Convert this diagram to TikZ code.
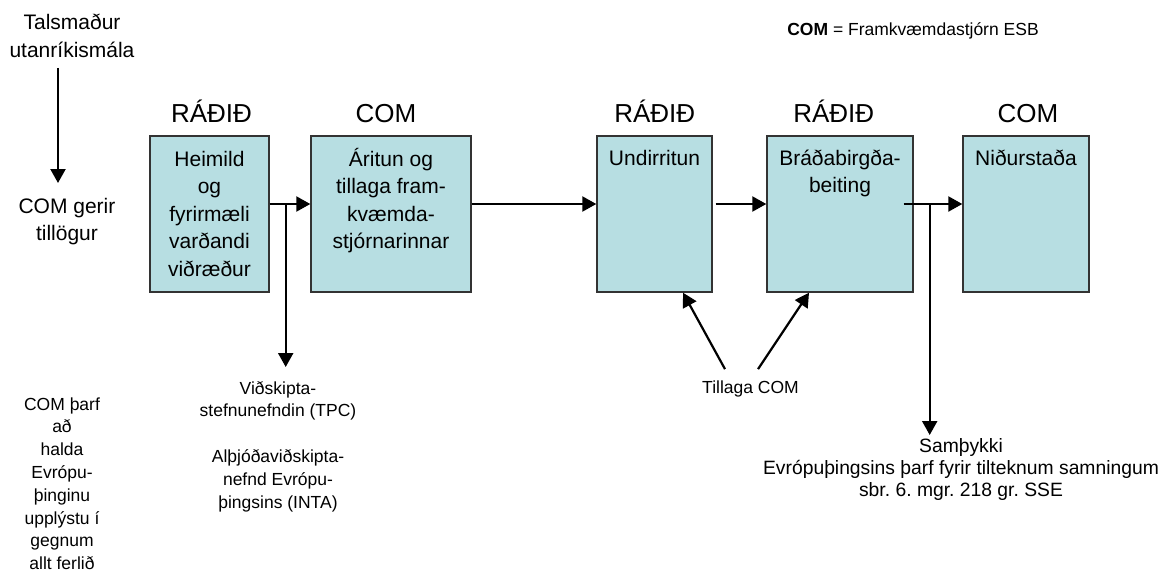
\documentclass[tikz,border=0pt]{standalone}
\usepackage{fontspec}
\setmainfont{Liberation Sans}
\usetikzlibrary{arrows.meta,calc}
\definecolor{boxfill}{RGB}{183,222,226}
\frenchspacing
\begin{document}
\begin{tikzpicture}[x=1pt,y=-1pt,
  arr/.style={line width=2.2pt,-{Triangle[length=14pt,width=15pt]}},
  stepbox/.style={draw=black!80,line width=1.4pt,fill=boxfill,inner sep=0pt,minimum height=156pt},
  head/.style={font=\fontsize{26}{30}\selectfont,anchor=base,inner sep=0pt},
  btext/.style={font=\fontsize{21}{27.5}\selectfont,align=center,anchor=north,inner sep=0pt},
  small/.style={font=\fontsize{17.5}{22.8}\selectfont,align=center,inner sep=0pt},
  mid/.style={font=\fontsize{19.3}{22}\selectfont,align=center,inner sep=0pt},
]
\useasboundingbox (0,0) rectangle (1174,573);

% boxes
\node[stepbox,minimum width=119pt] (b1) at (209.5,214) {};
\node[stepbox,minimum width=160pt] (b2) at (391,214) {};
\node[stepbox,minimum width=115pt] (b3) at (654.5,214) {};
\node[stepbox,minimum width=146pt] (b4) at (840,214) {};
\node[stepbox,minimum width=126pt] (b5) at (1026,214) {};

% box texts
\node[btext] (t1) at ([yshift=-11.5pt]b1.north) {\strut Heimild\\og\\fyrirmæli\\varðandi\\viðræður};
\node[btext] (t2) at ([yshift=-11.5pt]b2.north) {\strut Áritun og\\tillaga fram-\\kvæmda-\\stjórnarinnar};
\node[btext] (t3) at ([yshift=-10.5pt]b3.north) {\strut Undirritun};
\node[btext] (t4) at ([yshift=-10.5pt]b4.north) {\strut Bráðabirgða-\\beiting};
\node[btext] (t5) at ([yshift=-10.5pt]b5.north) {\strut Niðurstaða};

% headers
\node[head] (h1) at (211.5,122.7) {RÁÐIÐ};
\node[head] (h2) at (386,122.7) {COM};
\node[head] (h3) at (654.7,122.7) {RÁÐIÐ};
\node[head] (h4) at (833.7,122.7) {RÁÐIÐ};
\node[head] (h5) at (1028,122.7) {COM};

% legend
\node[font=\fontsize{17.5}{21}\selectfont,anchor=base,inner sep=0pt] (leg) at (913,35) {\textbf{COM} = Framkvæmdastjórn ESB};

% left texts
\node[btext] (tal) at (72,10.5) {\strut Talsmaður\\utanríkismála\strut};
\node[btext] (cg) at (67,193.75) {\strut COM gerir\\tillögur};
\coordinate (ax) at (58,0);
\draw[arr,shorten <=2pt,shorten >=10.75pt] (tal.south -| ax) -- (cg.north -| ax);

\node[small,anchor=north] (lb) at (62,394) {\strut COM þarf\\að\\halda\\Evrópu-\\þinginu\\upplýstu í\\gegnum\\allt ferlið};

% main arrows
\draw[arr] ([yshift=10pt]b1.east) -- ([yshift=10pt]b2.west);
\draw[arr] ([yshift=10pt]b2.east) -- ([yshift=10pt]b3.west);
\draw[arr] ([xshift=3pt,yshift=10pt]b3.east) -- ([yshift=10pt]b4.west);
\draw[arr] ([xshift=-10pt,yshift=10pt]b4.east) -- ([yshift=10pt]b5.west);

% TPC branch
\coordinate (j1) at ([xshift=16pt,yshift=10pt]b1.east);
\node[small,anchor=north] (tpc) at (278,378) {\strut Viðskipta-\\stefnunefndin (TPC)\\[22.8pt]Alþjóðaviðskipta-\\nefnd Evrópu-\\þingsins (INTA)};
\draw[arr,shorten >=11pt] (j1) -- (j1 |- tpc.north);

% Tillaga COM
\node[small,anchor=base] (tc) at (750.5,393) {Tillaga COM};
\draw[arr] ([xshift=-25.5pt,yshift=11pt]tc.north) -- ([xshift=28.5pt]b3.south);
\draw[arr] ([xshift=7.5pt,yshift=11pt]tc.north) -- ([xshift=-31pt]b4.south);

% Samþykki branch
\coordinate (j2) at ([xshift=16pt,yshift=10pt]b4.east);
\node[mid,anchor=north] (sam) at (961,436.6) {\strut Samþykki\\Evrópuþingsins þarf fyrir tilteknum samningum\\sbr. 6. mgr. 218 gr. SSE};
\draw[arr,shorten >=1.6pt] (j2) -- (j2 |- sam.north);
\end{tikzpicture}
\end{document}
